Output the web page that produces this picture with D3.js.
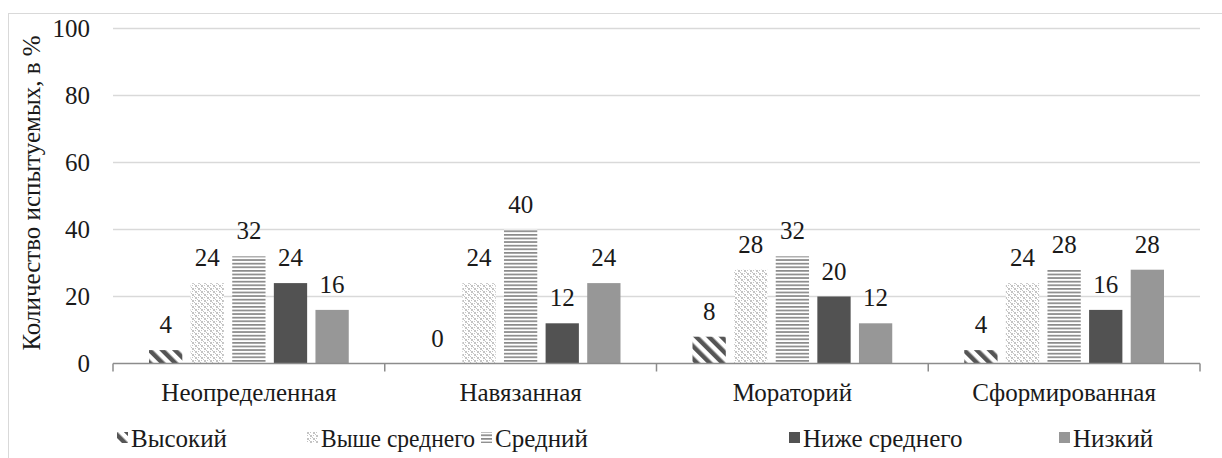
<!DOCTYPE html>
<html>
<head>
<meta charset="utf-8">
<script src="https://cdn.jsdelivr.net/npm/d3@7"></script>
<style>
  #vis text { font-family: "Times New Roman", "Liberation Serif", Tinos, "DejaVu Serif"; }
</style>
</head>
<body style="margin:0; background:#fff">
<svg id="vis"></svg>
<script>
// categories (identity status) and levels
const CATEGORIES = ["Неопределенная", "Навязанная", "Мораторий", "Сформированная"];
const LEVELS = ["Высокий", "Выше среднего", "Средний", "Ниже среднего", "Низкий"];

// values per level, in category order
const HIGH = [4, 0, 8, 4];
const ABOVE_AVG = [24, 24, 28, 24];
const AVERAGE = [32, 40, 32, 28];
const BELOW_AVG = [24, 12, 20, 16];
const LOW = [16, 24, 12, 28];

const Y_TICKS = [0, 20, 40, 60, 80, 100];
const Y_TITLE = "Количество испытуемых, в %";

const WIDTH = 1222;
const HEIGHT = 458;
const PLOT = { left: 113, right: 1200, top: 28.5, bottom: 363.5 };
const FONT = "Times New Roman";
const FONT_SIZE = "25px";
const TEXT_COLOR = "#1a1a1a";

// shared text styling, set on each text element
function styleText(sel){
    return sel
        .attr("font-size", FONT_SIZE)
        .style("font-family", function(){ return "'" + FONT + "'"; })
        .attr("fill", TEXT_COLOR);
}

let series = [HIGH, ABOVE_AVG, AVERAGE, BELOW_AVG, LOW];

let svg = d3.select("#vis")
    .attr("width", WIDTH)
    .attr("height", HEIGHT);

// fills: patterns for the first three levels, solid for the last two
let defs = svg.append("defs");

let diag = defs.append("pattern")
    .attr("id", "pat-high")
    .attr("patternUnits", "userSpaceOnUse")
    .attr("width", 9).attr("height", 9)
    .attr("patternTransform", "rotate(-45)");
diag.append("rect").attr("width", 9).attr("height", 9).attr("fill", "#fff");
diag.append("rect").attr("width", 4.5).attr("height", 9).attr("fill", "#555");

let dots = defs.append("pattern")
    .attr("id", "pat-above")
    .attr("patternUnits", "userSpaceOnUse")
    .attr("width", 6).attr("height", 6);
dots.append("rect").attr("width", 6).attr("height", 6).attr("fill", "#fff");
dots.append("path")
    .attr("d", "M0,0h2v2h-2z M3,3h2v2h-2z M3,0h1v1h-1z M0,3h1v1h-1z M1,1h1v1h-1z M4,4h1v1h-1z M2,2h1v1h-1z M5,5h1v1h-1z")
    .attr("fill", "#c4c4c4");

let horiz = defs.append("pattern")
    .attr("id", "pat-avg")
    .attr("patternUnits", "userSpaceOnUse")
    .attr("width", 8).attr("height", 3.6);
horiz.append("rect").attr("width", 8).attr("height", 3.6).attr("fill", "#fff");
horiz.append("rect").attr("width", 8).attr("height", 1.7).attr("fill", "#8a8a8a");

let fills = ["url(#pat-high)", "url(#pat-above)", "url(#pat-avg)", "#525252", "#979797"];

let xScale = d3.scaleBand()
    .domain(CATEGORIES)
    .range([PLOT.left, PLOT.right])
    .padding(0);

let xInner = d3.scaleBand()
    .domain(LEVELS)
    .range([36, xScale.bandwidth() - 36])
    .paddingInner(0.2);

let yScale = d3.scaleLinear()
    .domain([0, 100])
    .range([PLOT.bottom, PLOT.top]);

// outer frame
svg.append("rect")
    .attr("x", 8.5).attr("y", 13.5)
    .attr("width", WIDTH + 10).attr("height", HEIGHT + 10)
    .attr("fill", "none")
    .attr("stroke", "#d9d9d9")
    .attr("stroke-width", 1);

// gridlines
svg.append("g")
    .selectAll("line")
    .data(Y_TICKS.filter(function(d){ return d > 0; }))
    .enter()
    .append("line")
    .attr("x1", PLOT.left).attr("x2", PLOT.right)
    .attr("y1", function(d){ return yScale(d); })
    .attr("y2", function(d){ return yScale(d); })
    .attr("stroke", "#d9d9d9")
    .attr("stroke-width", 1.5);

// y tick labels
svg.append("g")
    .selectAll("text")
    .data(Y_TICKS)
    .enter()
    .append("text")
    .call(styleText)
    .attr("x", 90)
    .attr("y", function(d){ return yScale(d) + 8.5; })
    .attr("text-anchor", "end")
    .text(function(d){ return d; });

// y title
svg.append("text")
    .call(styleText)
    .attr("transform", "translate(40,193) rotate(-90)")
    .attr("text-anchor", "middle")
    .text(Y_TITLE);

// bars
let groups = svg.append("g")
    .selectAll("g")
    .data(series)
    .enter()
    .append("g")
    .attr("fill", function(d, i){ return fills[i]; });

groups.selectAll("rect")
    .data(function(d, i){
        return d.map(function(v, j){ return { level: LEVELS[i], cat: CATEGORIES[j], value: v }; });
    })
    .enter()
    .append("rect")
    .attr("x", function(d){ return xScale(d.cat) + xInner(d.level); })
    .attr("y", function(d){ return yScale(d.value); })
    .attr("width", xInner.bandwidth())
    .attr("height", function(d){ return yScale(0) - yScale(d.value); });

// value labels
groups.selectAll("text")
    .data(function(d, i){
        return d.map(function(v, j){ return { level: LEVELS[i], cat: CATEGORIES[j], value: v }; });
    })
    .enter()
    .append("text")
    .call(styleText)
    .attr("x", function(d){ return xScale(d.cat) + xInner(d.level) + xInner.bandwidth() / 2; })
    .attr("y", function(d){ return yScale(d.value) - 17; })
    .attr("text-anchor", "middle")
    .text(function(d){ return d.value; });

// x axis line and category ticks
let axis = svg.append("g").attr("stroke", "#8c8c8c").attr("stroke-width", 1.5);
axis.append("line")
    .attr("x1", PLOT.left).attr("x2", PLOT.right)
    .attr("y1", yScale(0)).attr("y2", yScale(0));
axis.selectAll("line.tick")
    .data(CATEGORIES.map(function(c){ return xScale(c); }).concat([PLOT.right]))
    .enter()
    .append("line")
    .attr("class", "tick")
    .attr("x1", function(d){ return d; }).attr("x2", function(d){ return d; })
    .attr("y1", yScale(0)).attr("y2", yScale(0) + 8);

// category labels
svg.append("g")
    .selectAll("text")
    .data(CATEGORIES)
    .enter()
    .append("text")
    .call(styleText)
    .attr("x", function(d){ return xScale(d) + xScale.bandwidth() / 2; })
    .attr("y", 401)
    .attr("text-anchor", "middle")
    .text(function(d){ return d; });

// legend: marker x positions, text follows the marker
const LEGEND_X = [117, 307, 481, 789, 1059];
let legend = svg.append("g")
    .selectAll("g")
    .data(LEVELS)
    .enter()
    .append("g")
    .attr("transform", function(d, i){ return "translate(" + LEGEND_X[i] + ",438)"; });

legend.append("rect")
    .attr("x", 0).attr("y", -6)
    .attr("width", 11).attr("height", 11)
    .attr("fill", function(d, i){ return fills[i]; });

let legendText = legend.append("text")
    .call(styleText)
    .attr("x", 14)
    .attr("y", 9)
    .text(function(d){ return d; });

// keep legend labels from running into the next marker
legendText.each(function(d, i){
    if (i < LEVELS.length - 1) {
        let room = LEGEND_X[i + 1] - LEGEND_X[i] - 14 - 6;
        if (this.getComputedTextLength() > room) {
            d3.select(this).attr("textLength", room).attr("lengthAdjust", "spacingAndGlyphs");
        }
    }
});
</script>
</body>
</html>
